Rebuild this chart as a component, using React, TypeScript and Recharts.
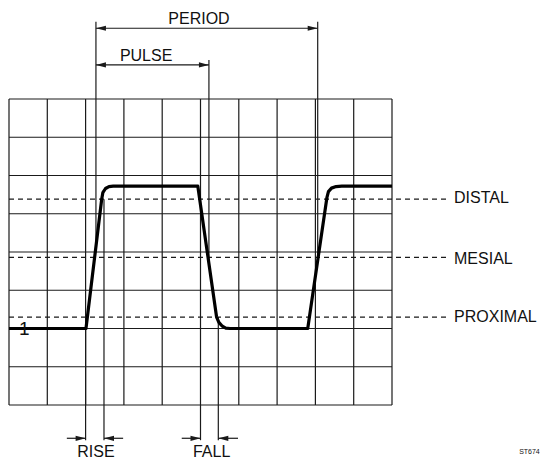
import React from 'react';
import { LineChart, Line, XAxis, YAxis, ReferenceLine, ReferenceDot } from 'recharts';

// Waveform (x in screen divisions, y in screen divisions from bottom)
const waveX = [0, 2.01, 2.42, 2.45, 2.52, 2.61, 2.72, 4.93, 5.42, 5.48, 5.57, 5.66, 5.77, 7.8, 8.3, 8.34, 8.42, 8.54, 8.69, 10];
const waveY = [2, 2, 5.38, 5.55, 5.66, 5.71, 5.72, 5.72, 2.3, 2.16, 2.06, 2.01, 2.0, 2.0, 5.42, 5.58, 5.67, 5.71, 5.72, 5.72];

const gridCols = [0, 1, 2, 3, 4, 5, 6, 7, 8, 9, 10];
const gridRows = [0, 1, 2, 3, 4, 5, 6, 7, 8];

const levelNames = ['DISTAL', 'MESIAL', 'PROXIMAL'];
const levelValues = [5.38, 3.86, 2.3];
const levelLabelY = [5.27, 3.68, 2.16];

const data = waveX.map((x, i) => ({ x, y: waveY[i] }));

// annotation geometry in data units
const markers = [
  { x: 2.27, y1: 10.02, y2: 4.1 },
  { x: 5.22, y1: 9.02, y2: 3.74 },
  { x: 8.06, y1: 10.02, y2: 3.81 },
  { x: 2.0, y1: 2.0, y2: -0.92 },
  { x: 2.48, y1: 5.38, y2: -0.92 },
  { x: 5.0, y1: 0, y2: -0.92 },
  { x: 5.465, y1: 2.3, y2: -0.92 },
];

const arrows = [
  { x1: 2.27, x2: 8.06, y: 9.85, both: true },
  { x1: 2.27, x2: 5.22, y: 8.89, both: true },
  { x1: 1.51, x2: 2.0, y: -0.87, both: false },
  { x1: 2.98, x2: 2.48, y: -0.87, both: false },
  { x1: 4.51, x2: 5.0, y: -0.87, both: false },
  { x1: 5.98, x2: 5.465, y: -0.87, both: false },
];

const texts = [
  { t: 'PERIOD', x: 4.96, y: 9.97, anchor: 'middle', size: 16 },
  { t: 'PULSE', x: 3.58, y: 9.0, anchor: 'middle', size: 16 },
  { t: 'RISE', x: 2.27, y: -1.37, anchor: 'middle', size: 16 },
  { t: 'FALL', x: 5.29, y: -1.37, anchor: 'middle', size: 16 },
  { t: '1', x: 0.4, y: 1.82, anchor: 'middle', size: 19 },
  { t: 'ST674', x: 13.32, y: -1.29, anchor: 'start', size: 7 },
];

const FONT = '"Liberation Sans", Arial, sans-serif';
const LINE = '#1a1a1a';

const makeArrow = (both: boolean) => (props: any) => {
  const { x1, y1, x2, y2 } = props;
  const dx = x2 - x1;
  const dy = y2 - y1;
  const len = Math.hypot(dx, dy) || 1;
  const ux = dx / len;
  const uy = dy / len;
  const head = (px: number, py: number, dirx: number, diry: number) => {
    const L = 10;
    const W = 2.6;
    const bx = px - dirx * L;
    const by = py - diry * L;
    return (
      <polygon
        points={`${px},${py} ${bx - diry * W},${by + dirx * W} ${bx + diry * W},${by - dirx * W}`}
        fill={LINE}
      />
    );
  };
  return (
    <g>
      <line x1={x1} y1={y1} x2={x2} y2={y2} stroke={LINE} strokeWidth={1.2} />
      {both && head(x1, y1, -ux, -uy)}
      {head(x2, y2, ux, uy)}
    </g>
  );
};

const makeText = (t: string, anchor: string, size: number) => (props: any) => (
  <text
    x={props.cx}
    y={props.cy}
    textAnchor={anchor as any}
    fontSize={size}
    fontFamily={FONT}
    fill="#111"
  >
    {t}
  </text>
);

export default function App() {
  return (
    <div style={{ position: 'absolute', left: 0, top: 0, background: '#fff' }}>
      <LineChart width={540} height={460} data={data} margin={{ top: 99, right: 148, bottom: 55, left: 9 }}>
        <XAxis type="number" dataKey="x" domain={[0, 10]} hide allowDataOverflow />
        <YAxis type="number" domain={[0, 8]} hide allowDataOverflow />
        {gridCols.map((c) => (
          <ReferenceLine key={'c' + c} x={c} stroke={LINE} strokeWidth={1.2} ifOverflow="visible" />
        ))}
        {gridRows.map((r) => (
          <ReferenceLine key={'r' + r} y={r} stroke={LINE} strokeWidth={1.2} ifOverflow="visible" />
        ))}
        {levelValues.map((v, i) => (
          <ReferenceLine
            key={'l' + i}
            segment={[{ x: 0, y: v }, { x: 11.46, y: v }]}
            stroke={LINE}
            strokeWidth={1.3}
            strokeDasharray="5 4"
            ifOverflow="visible"
          />
        ))}
        {markers.map((m, i) => (
          <ReferenceLine
            key={'m' + i}
            segment={[{ x: m.x, y: m.y1 }, { x: m.x, y: m.y2 }]}
            stroke={LINE}
            strokeWidth={1.2}
            ifOverflow="visible"
          />
        ))}
        {arrows.map((a, i) => (
          <ReferenceLine
            key={'a' + i}
            segment={[{ x: a.x1, y: a.y }, { x: a.x2, y: a.y }]}
            ifOverflow="visible"
            shape={makeArrow(a.both)}
          />
        ))}
        <Line
          type="linear"
          dataKey="y"
          stroke="#000"
          strokeWidth={3.2}
          dot={false}
          isAnimationActive={false}
          strokeLinejoin="round"
        />
        {levelNames.map((n, i) => (
          <ReferenceDot
            key={'ln' + i}
            x={11.62}
            y={levelLabelY[i]}
            r={0}
            ifOverflow="visible"
            shape={makeText(n, 'start', 16)}
          />
        ))}
        {texts.map((t, i) => (
          <ReferenceDot
            key={'t' + i}
            x={t.x}
            y={t.y}
            r={0}
            ifOverflow="visible"
            shape={makeText(t.t, t.anchor, t.size)}
          />
        ))}
      </LineChart>
    </div>
  );
}
